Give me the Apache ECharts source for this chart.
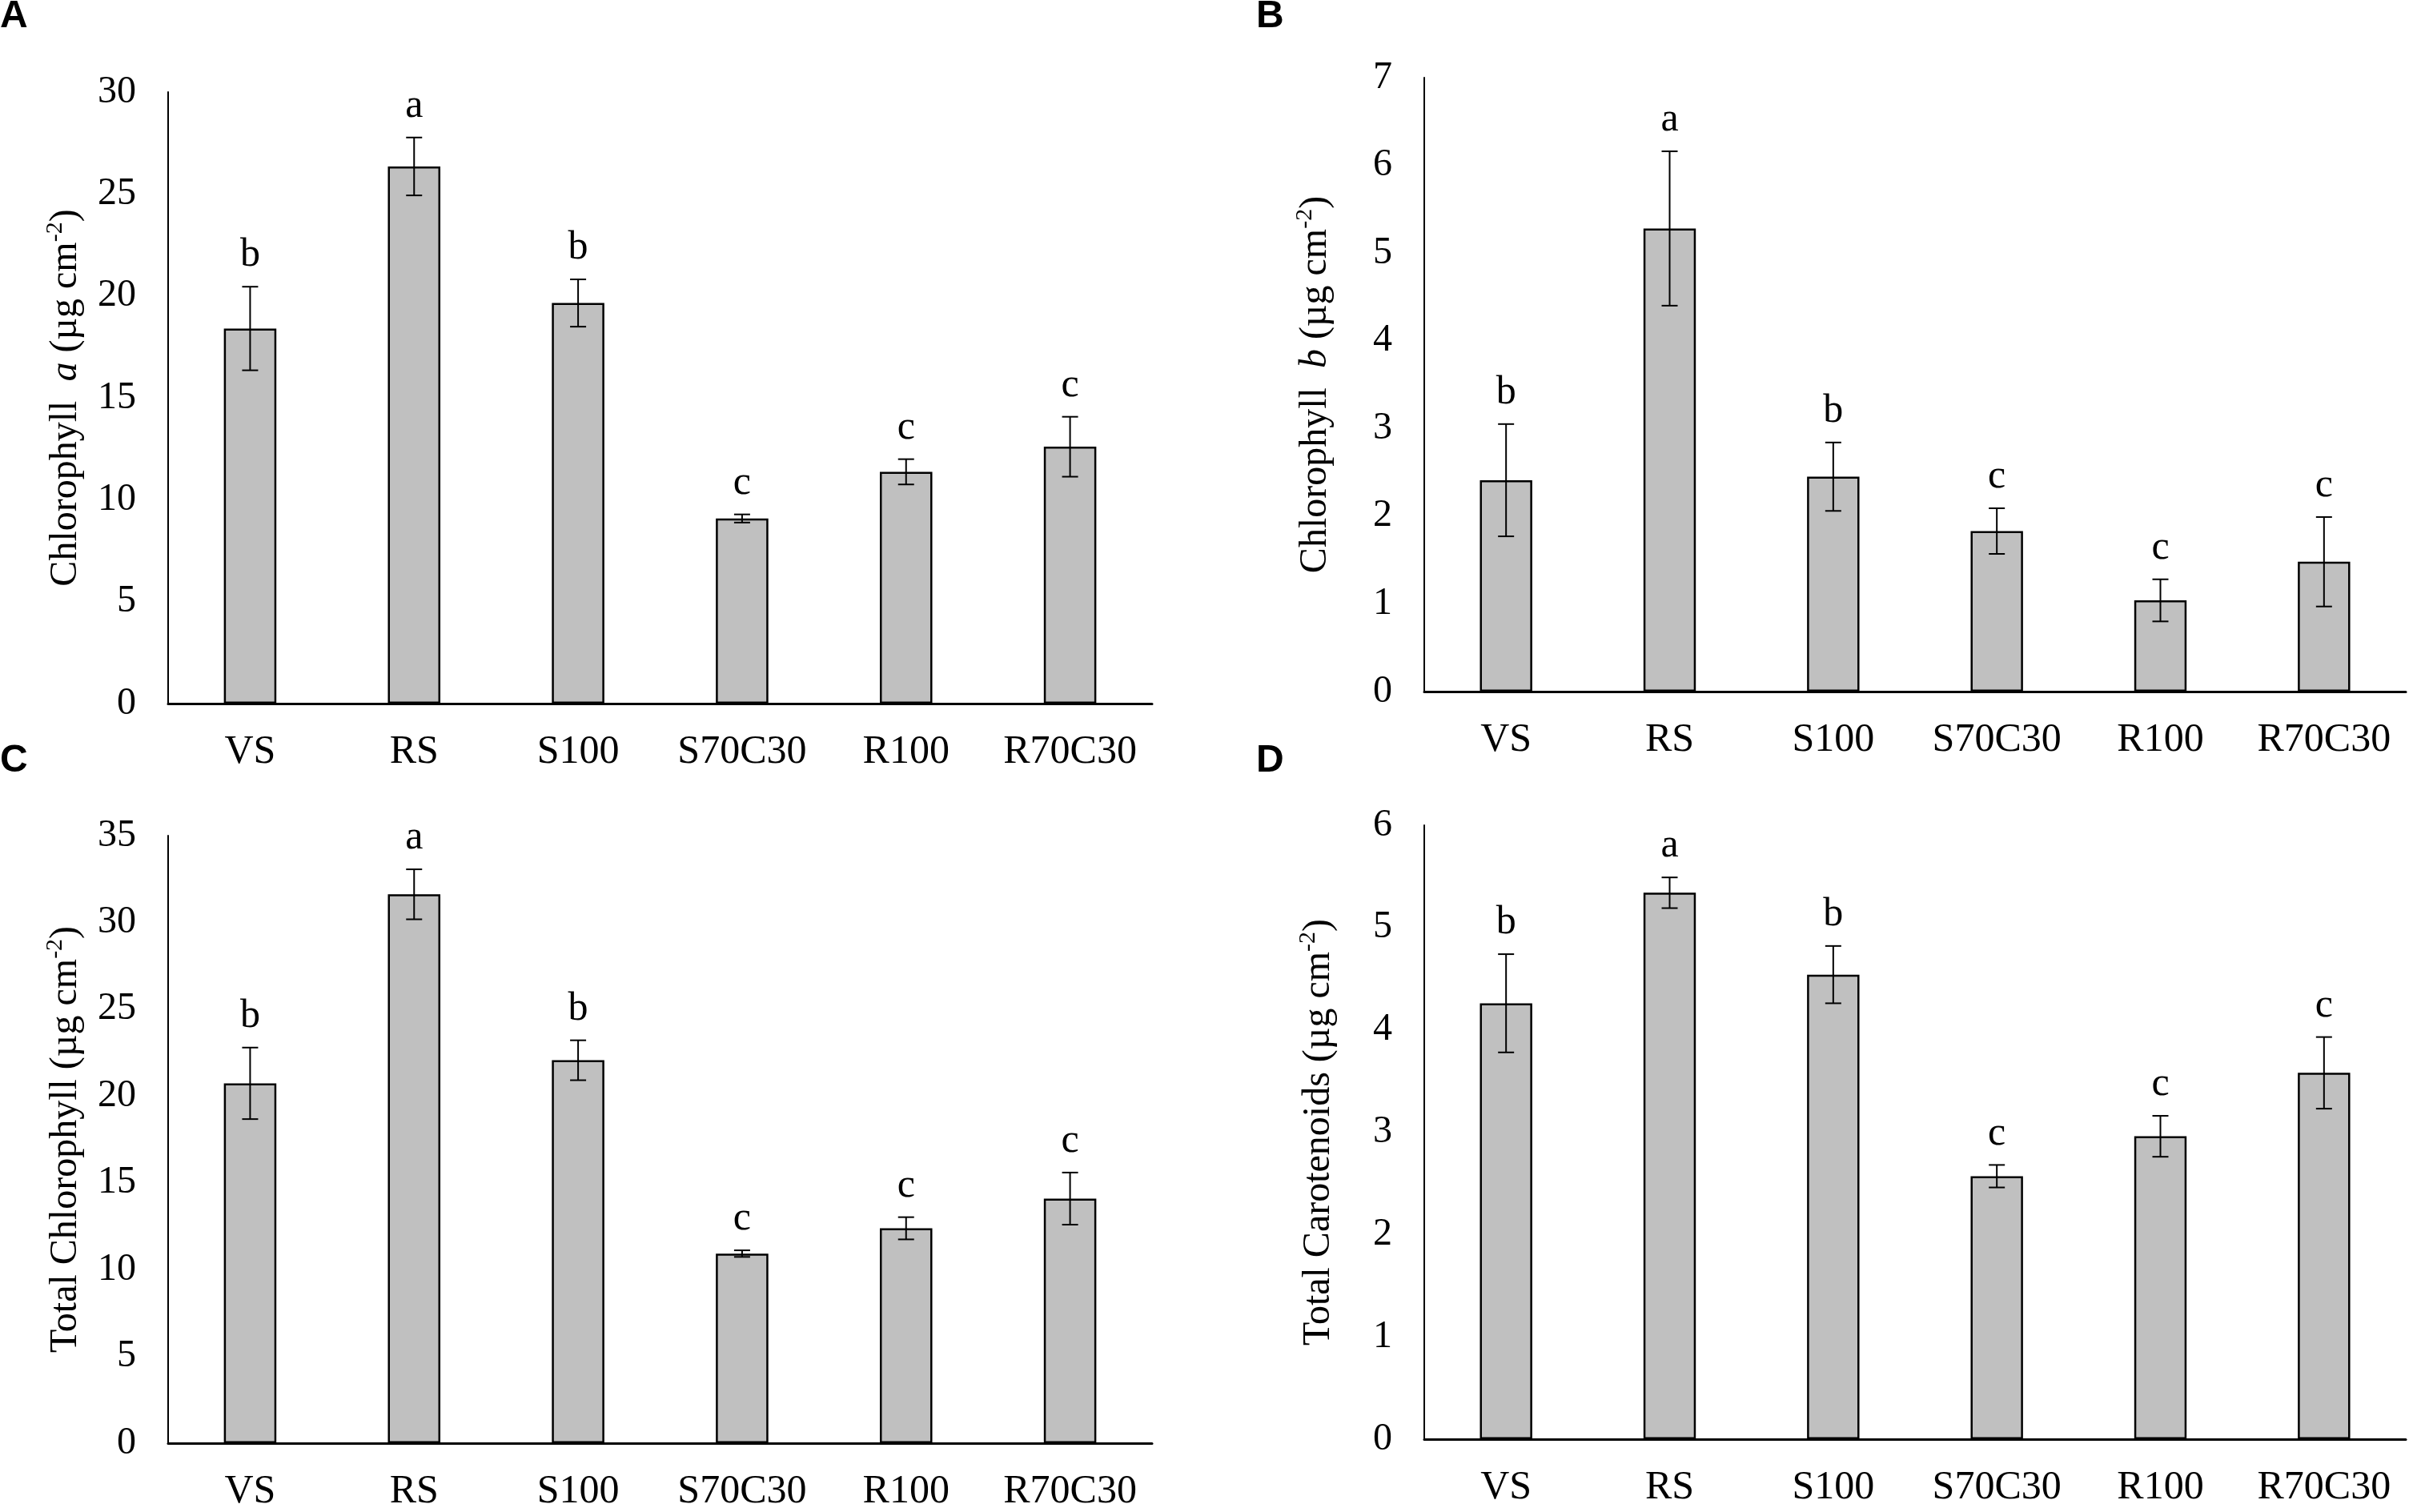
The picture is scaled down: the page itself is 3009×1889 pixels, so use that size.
<!DOCTYPE html>
<html><head><meta charset="utf-8">
<script src="https://cdn.jsdelivr.net/npm/echarts@6/dist/echarts.min.js"></script>
<style>html,body{margin:0;padding:0;background:#fff}#c{width:3009px;height:1889px}</style>
</head><body><div id="c"></div>
<script>
// ---- data ----
const categories = ['VS', 'RS', 'S100', 'S70C30', 'R100', 'R70C30'];

const chlA        = [18.4, 26.35, 19.65, 9.08, 11.37, 12.6];
const chlAErr     = [2.05, 1.42, 1.16, 0.2, 0.62, 1.47];
const chlALetters = ['b', 'a', 'b', 'c', 'c', 'c'];

const chlB        = [2.41, 5.28, 2.45, 1.83, 1.04, 1.48];
const chlBErr     = [0.64, 0.88, 0.39, 0.26, 0.24, 0.51];
const chlBLetters = ['b', 'a', 'b', 'c', 'c', 'c'];

const totChl        = [20.73, 31.62, 22.06, 10.92, 12.38, 14.09];
const totChlErr     = [2.06, 1.44, 1.15, 0.19, 0.64, 1.5];
const totChlLetters = ['b', 'a', 'b', 'c', 'c', 'c'];

const carot        = [4.26, 5.34, 4.54, 2.57, 2.96, 3.58];
const carotErr     = [0.48, 0.15, 0.28, 0.11, 0.2, 0.35];
const carotLetters = ['b', 'a', 'b', 'c', 'c', 'c'];

const yScaleA = [0, 30, 5];
const yScaleB = [0, 7, 1];
const yScaleC = [0, 35, 5];
const yScaleD = [0, 6, 1];

const panelLetters = ['A', 'B', 'C', 'D'];

// ---- layout ----
const SERIF = '"Liberation Serif", "Times New Roman", serif';
const grids = [
  { left: 210,  top: 115,  width: 1229, height: 764 },
  { left: 1779, top: 97,   width: 1226, height: 767 },
  { left: 210,  top: 1044, width: 1229, height: 768 },
  { left: 1779, top: 1031, width: 1226, height: 767 }
];
const nameGaps = [100, 108, 100, 104];

const panels = [
  { vals: chlA, err: chlAErr, let: chlALetters, sc: yScaleA,
    name: '{n|Chlorophyll  }{i|a}{n| (µg cm}{s|-2}{n|)}' },
  { vals: chlB, err: chlBErr, let: chlBLetters, sc: yScaleB,
    name: '{n|Chlorophyll  }{i|b}{n| (µg cm}{s|-2}{n|)}' },
  { vals: totChl, err: totChlErr, let: totChlLetters, sc: yScaleC,
    name: '{n|Total Chlorophyll (µg cm}{s|-2}{n|)}' },
  { vals: carot, err: carotErr, let: carotLetters, sc: yScaleD,
    name: '{n|Total Carotenoids (µg cm}{s|-2}{n|)}' }
];

function errRender(errs, letters) {
  return function (params, api) {
    const idx = params.dataIndex;
    const c = api.value(0), m = api.value(1), e = errs[idx];
    const top = api.coord([c, m + e]);
    const bot = api.coord([c, m - e]);
    const x = top[0], cap = 10;
    const st = { stroke: '#000', lineWidth: 2 };
    return {
      type: 'group',
      children: [
        { type: 'line', shape: { x1: x, y1: top[1], x2: x, y2: bot[1] }, style: st },
        { type: 'line', shape: { x1: x - cap, y1: top[1], x2: x + cap, y2: top[1] }, style: st },
        { type: 'line', shape: { x1: x - cap, y1: bot[1], x2: x + cap, y2: bot[1] }, style: st },
        { type: 'text', x: x, y: top[1] - 14,
          style: { text: letters[idx], fontSize: 50, fontFamily: SERIF, fill: '#000',
                   align: 'center', verticalAlign: 'bottom' } }
      ]
    };
  };
}

const LETTER_FONT = 'bold 48px "Liberation Sans", Arial';

const option = {
  backgroundColor: '#fff',
  animation: false,
  grid: grids,
  xAxis: panels.map((p, i) => ({
    type: 'category', gridIndex: i, data: categories,
    axisLine: { lineStyle: { color: '#000', width: 3 } },
    axisTick: { show: false },
    axisLabel: { color: '#000', fontSize: 50, fontFamily: SERIF, margin: 36, interval: 0 }
  })),
  yAxis: panels.map((p, i) => ({
    type: 'value', gridIndex: i, min: p.sc[0], max: p.sc[1], interval: p.sc[2],
    axisLine: { show: true, lineStyle: { color: '#000', width: 2 } },
    axisTick: { show: false },
    splitLine: { show: false },
    axisLabel: { color: '#000', fontSize: 48, fontFamily: SERIF, margin: 40 },
    name: p.name, nameLocation: 'middle', nameRotate: 90, nameGap: nameGaps[i],
    nameTextStyle: {
      color: '#000', fontSize: 48, fontFamily: SERIF,
      rich: {
        n: { fontSize: 48, fontFamily: SERIF, color: '#000', lineHeight: 56 },
        i: { fontSize: 48, fontFamily: SERIF, fontStyle: 'italic', color: '#000', lineHeight: 56 },
        s: { fontSize: 30, fontFamily: SERIF, color: '#000', lineHeight: 30, verticalAlign: 'top' }
      }
    }
  })),
  series: panels.flatMap((p, i) => [
    { type: 'bar', xAxisIndex: i, yAxisIndex: i, data: p.vals, barWidth: '32%',
      itemStyle: { color: '#c0c0c0', borderColor: '#000', borderWidth: 2.5 } },
    { type: 'custom', xAxisIndex: i, yAxisIndex: i, z: 5,
      data: p.vals.map((v, k) => [k, v]),
      renderItem: errRender(p.err, p.let) }
  ]),
  graphic: [
    { type: 'text', left: 0, top: -3, style: { text: panelLetters[0], font: LETTER_FONT, fill: '#000' } },
    { type: 'text', left: 1569, top: -3, style: { text: panelLetters[1], font: LETTER_FONT, fill: '#000' } },
    { type: 'text', left: 0, top: 927, style: { text: panelLetters[2], font: LETTER_FONT, fill: '#000' } },
    { type: 'text', left: 1569, top: 927, style: { text: panelLetters[3], font: LETTER_FONT, fill: '#000' } }
  ]
};

const chart = echarts.init(document.getElementById('c'), null, { renderer: 'canvas' });
chart.setOption(option);
</script>
</body></html>
